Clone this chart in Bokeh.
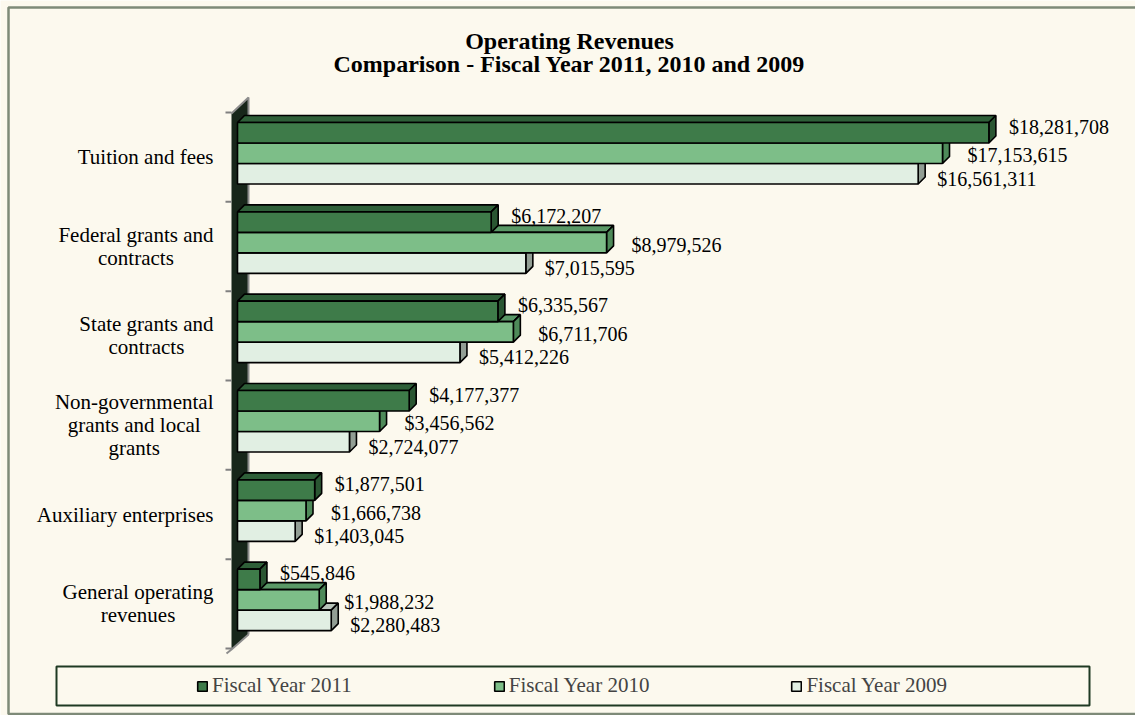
from bokeh.plotting import figure
from bokeh.models import Range1d, Legend, LegendItem
from bokeh.core.properties import value
from bokeh.embed import file_html
from bokeh.resources import INLINE

# ---------------- data ----------------
categories = [
    "Tuition and fees",
    "Federal grants and\ncontracts",
    "State grants and\ncontracts",
    "Non-governmental\ngrants and local\ngrants",
    "Auxiliary enterprises",
    "General operating\nrevenues",
]
fy2011 = [18281708, 6172207, 6335567, 4177377, 1877501, 545846]
fy2010 = [17153615, 8979526, 6711706, 3456562, 1666738, 1988232]
fy2009 = [16561311, 7015595, 5412226, 2724077, 1403045, 2280483]
series_names = ["Fiscal Year 2011", "Fiscal Year 2010", "Fiscal Year 2009"]
title_text = "Operating Revenues\nComparison - Fiscal Year 2011, 2010 and 2009"

# ---------------- style ----------------
front_colors = ["#3E7B49", "#7DBE88", "#E1EFE3"]
top_colors = ["#2E5F38", "#5A9866", "#B7C4B9"]
side_colors = ["#2A5632", "#4E8A59", "#929E94"]
BG = "#FCF9EE"
FONT = "Liberation Serif"

# ---------------- layout (screen pixels) ----------------
W, H = 1135, 715
PAGE = 0
ZERO_PX, FULL_PX, XMAX = 237, 1059, 20_000_000
BAND_TOP_PX, BAND_BOT_PX = 112, 648
n = len(categories)
kx = (FULL_PX - ZERO_PX) / XMAX
ppu = (BAND_BOT_PX - BAND_TOP_PX) / n


def X(px):
    return (px - ZERO_PX) / kx


def Y(py):
    return (n - 0.5) - (py - BAND_TOP_PX) / ppu


p = figure(width=W, height=H, output_backend="svg", toolbar_location=None,
           x_range=Range1d(X(PAGE), X(PAGE + W)), y_range=Range1d(Y(PAGE + H), Y(PAGE)),
           x_axis_type=None, y_axis_type=None, min_border=0,
           background_fill_color=BG, border_fill_color=BG, outline_line_color=None)
p.xgrid.visible = False
p.ygrid.visible = False

# outer border (left, top, bottom; right edge lies outside the view)
p.line([X(1150), X(8), X(8), X(1150)], [Y(7), Y(7), Y(713.5), Y(713.5)],
       line_color="#7E8A78", line_width=2.5)

# 3D wall
p.patch([X(231), X(248), X(248), X(231)], [Y(113), Y(97), Y(634), Y(649)],
        fill_color="#17261A", line_color=None)
p.line([X(231), X(248), X(248)], [Y(113), Y(97), Y(634)], line_color="#8C8C8C", line_width=2)
p.line([X(226), X(231), X(248)], [Y(653), Y(649), Y(634)], line_color="#8C8C8C", line_width=2)

# category boundary ticks
bounds = [n - 0.5 - i for i in range(n + 1)]
p.segment(x0=[X(225)] * len(bounds), x1=[X(231)] * len(bounds), y0=bounds, y1=bounds,
          line_color="#808080", line_width=2)

# bars
ypos = [n - 1 - i for i in range(n)]
bar_h = 20.5 / ppu
gap = 10 / ppu
dxu = 7 / kx
dyu = 7 / ppu
series = [fy2011, fy2010, fy2009]
label_offsets = [(20, -6), (25, 2), (19, 5)]
front_renderers = [None, None, None]

for s in [2, 1, 0]:
    vals = series[s]
    tops = [y + 0.5 - gap - s * bar_h for y in ypos]
    bots = [t - bar_h for t in tops]
    top_xs = [[0, v, v + dxu, dxu] for v in vals]
    top_ys = [[t, t, t + dyu, t + dyu] for t in tops]
    p.patches(top_xs, top_ys, fill_color=top_colors[s], line_color="black", line_width=1.6)
    side_xs = [[v, v, v + dxu, v + dxu] for v in vals]
    side_ys = [[b, t, t + dyu, b + dyu] for b, t in zip(bots, tops)]
    p.patches(side_xs, side_ys, fill_color=side_colors[s], line_color="black", line_width=1.6)
    front_renderers[s] = p.quad(left=[0] * n, right=vals, top=tops, bottom=bots,
                                fill_color=front_colors[s], line_color="black", line_width=1.6)

for s in range(3):
    vals = series[s]
    tops = [y + 0.5 - gap - s * bar_h for y in ypos]
    mids = [t - bar_h / 2 for t in tops]
    p.text(x=vals, y=mids, text=[f"${v:,}" for v in vals],
           x_offset=label_offsets[s][0], y_offset=label_offsets[s][1],
           text_font=value(FONT), text_font_size="20px", text_color="black",
           text_align="left", text_baseline="middle")

# category labels
p.text(x=[X(213)] * n, y=ypos, text=categories, anchor="center_right",
       text_align="center", text_baseline="middle", text_line_height=0.95,
       text_font=value(FONT), text_font_size="21px", text_color="black")

# title
p.text(x=[X(569)], y=[Y(52)], text=[title_text], text_align="center",
       text_baseline="middle", text_line_height=0.9, text_font=value(FONT),
       text_font_size="24px", text_font_style="bold", text_color="black")

# legend box
p.quad(left=[X(56)], right=[X(1089)], top=[Y(666)], bottom=[Y(705)],
       fill_color=None, line_color="#1F3A23", line_width=2)

legend = Legend(items=[LegendItem(label=series_names[s], renderers=[front_renderers[s]]) for s in range(3)],
                orientation="horizontal", location=(196, 17), margin=0, padding=0,
                spacing=141, glyph_width=12, glyph_height=12, label_standoff=4,
                label_text_font=FONT, label_text_font_size="21px",
                border_line_color=None, background_fill_alpha=0)
p.add_layout(legend)

open("out.html", "w").write(file_html(p, INLINE))
